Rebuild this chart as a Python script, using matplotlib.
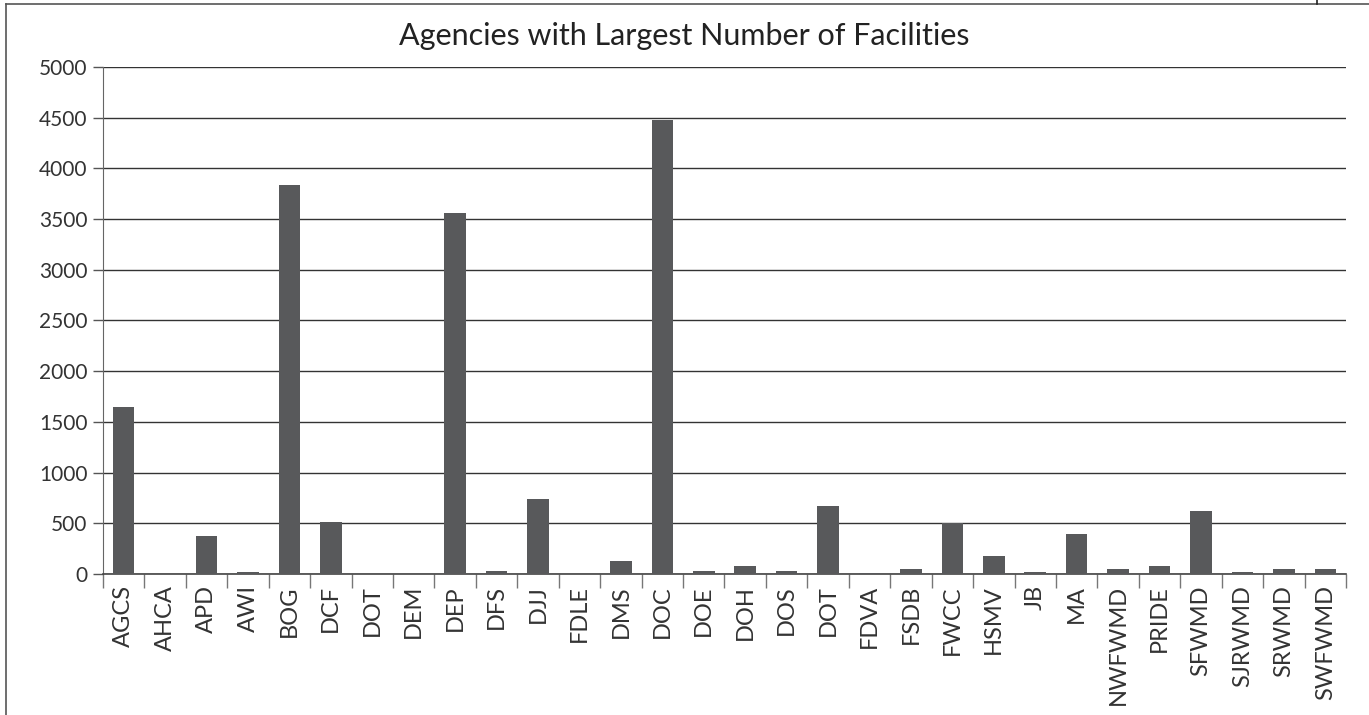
#!/usr/bin/env python3

import numpy as np
import matplotlib
matplotlib.use('Agg')
import matplotlib.pyplot as plt
from matplotlib.lines import Line2D

agencies = [
	'AGCS', 'AHCA', 'APD', 'AWI', 'BOG', 'DCF', 'DOT', 'DEM', 'DEP', 'DFS',
	'DJJ', 'FDLE', 'DMS', 'DOC', 'DOE', 'DOH', 'DOS', 'DOT', 'FDVA', 'FSDB',
	'FWCC', 'HSMV', 'JB', 'MA', 'NWFWMD', 'PRIDE', 'SFWMD', 'SJRWMD', 'SRWMD', 'SWFWMD',
]
facilities = [
	1650, 0, 370, 20, 3840, 510, 0, 0, 3560, 25,
	740, 0, 130, 4480, 30, 80, 25, 670, 8, 50,
	500, 180, 15, 390, 50, 80, 620, 15, 50, 50,
]
y_ticks = [0, 500, 1000, 1500, 2000, 2500, 3000, 3500, 4000, 4500, 5000]

plt.rcParams['font.family'] = ['Lato', 'DejaVu Sans']

fig = plt.figure(figsize=(13.69, 7.15), dpi=100)
ax = fig.add_axes([0.0752, 0.1972, 0.908, 0.7091])

x = np.arange(len(agencies))
ax.bar(x, facilities, width=0.52, color='#58595b', zorder=3)

ax.set_xlim(-0.5, len(agencies) - 0.5)
ax.set_ylim(0, 5000)

ax.set_yticks(y_ticks)
ax.set_yticklabels([str(v) for v in y_ticks], fontsize=15, color='#333333')
ax.yaxis.grid(True, color='#333333', linewidth=1.0, zorder=0)
ax.tick_params(axis='y', length=7, width=1, color='#555555', pad=4)

ax.set_xticks(x)
ax.set_xticklabels(agencies, rotation=90, fontsize=17, color='#333333')
ax.tick_params(axis='x', which='major', length=0, pad=8)
ax.set_xticks(np.arange(len(agencies) + 1) - 0.5, minor=True)
ax.tick_params(axis='x', which='minor', length=10, width=1, color='#777777')

for side in ['top', 'right']:
	ax.spines[side].set_visible(False)
ax.spines['left'].set_color('#666666')
ax.spines['bottom'].set_color('#444444')
ax.spines['bottom'].set_linewidth(1.2)

fig.text(0.5, 0.95, 'Agencies with Largest Number of Facilities',
	ha='center', va='center', fontsize=22, color='#222222')

# page frame around the chart
frame_color = '#555555'
W, H = 1369.0, 715.0
fig.add_artist(Line2D([6 / W, 1.0], [1 - 4 / H, 1 - 4 / H], transform=fig.transFigure,
	color=frame_color, linewidth=1.2))
fig.add_artist(Line2D([6 / W, 6 / W], [0.0, 1 - 4 / H], transform=fig.transFigure,
	color=frame_color, linewidth=1.2))
fig.add_artist(Line2D([1317 / W, 1317 / W], [1 - 4 / H, 1.0], transform=fig.transFigure,
	color='#222222', linewidth=1.2))

fig.savefig('out.png', dpi=100)
